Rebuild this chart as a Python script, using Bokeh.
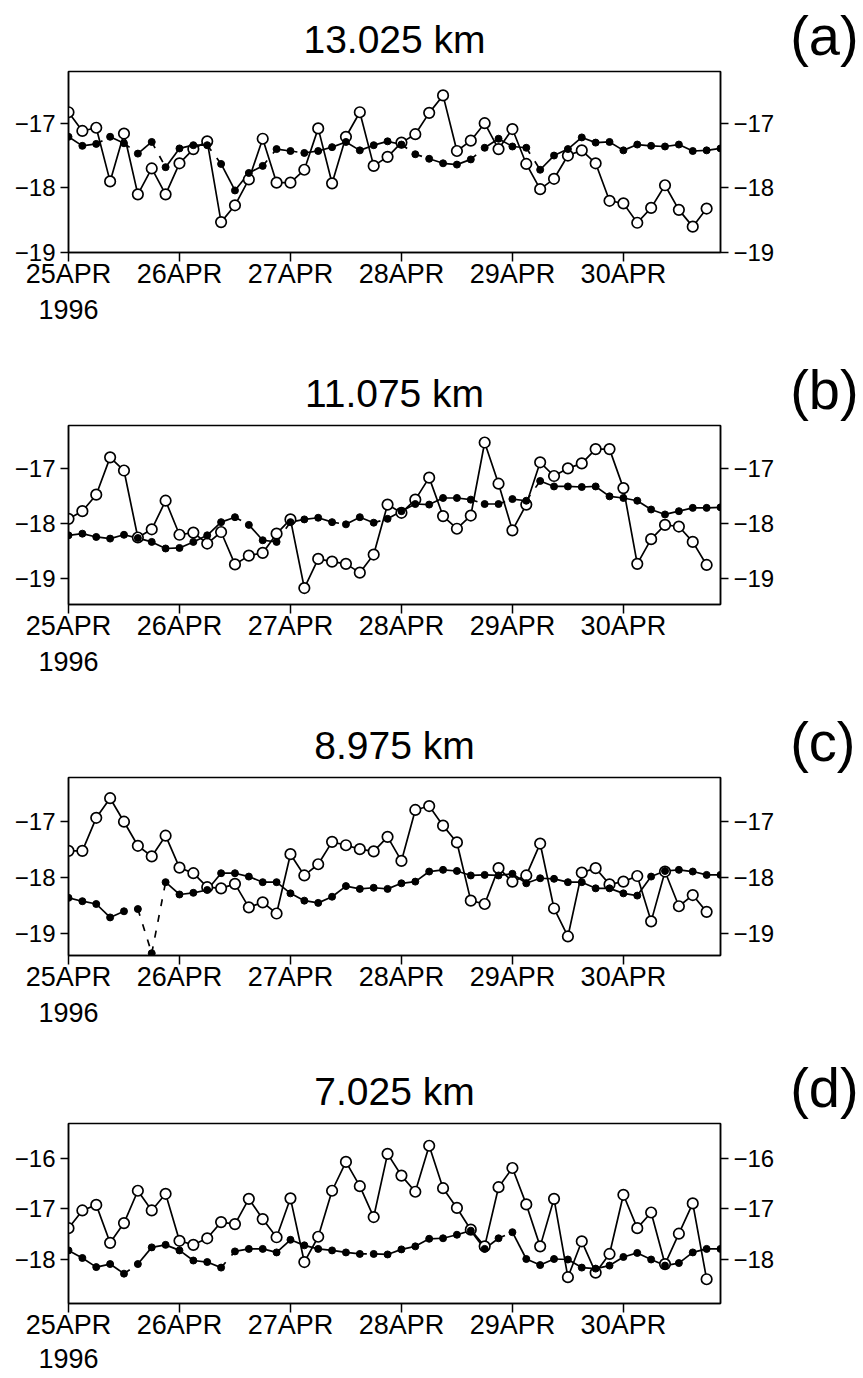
from bokeh.plotting import figure
from bokeh.layouts import column
from bokeh.models import Range1d, FixedTicker, LinearAxis, Title, ColumnDataSource
from bokeh.embed import file_html
from bokeh.resources import INLINE

# ---------------- data ----------------
STEP_HOURS = 3
DAY_TICKS = [0, 24, 48, 72, 96, 120]
DAY_LABELS = ["25APR", "26APR", "27APR", "28APR", "29APR", "30APR"]
YEAR_LABEL = "1996"
TITLES = ["13.025 km", "11.075 km", "8.975 km", "7.025 km"]
TAGS = ["(a)", "(b)", "(c)", "(d)"]

Y_TICKS_A = [-19, -18, -17]
Y_TICKS_B = [-19, -18, -17]
Y_TICKS_C = [-19, -18, -17]
Y_TICKS_D = [-18, -17, -16]

open_a = [-16.83, -17.12, -17.07, -17.90, -17.16, -18.10, -17.70, -18.10, -17.62, -17.40,
          -17.28, -18.53, -18.27, -17.87, -17.24, -17.92, -17.92, -17.72, -17.08, -17.93,
          -17.21, -16.83, -17.66, -17.52, -17.30, -17.17, -16.84, -16.57, -17.43, -17.27,
          -17.00, -17.40, -17.09, -17.63, -18.02, -17.86, -17.50, -17.42, -17.62, -18.20,
          -18.24, -18.54, -18.31, -17.96, -18.34, -18.60, -18.32]
filled_a = [-17.21, -17.35, -17.32, -17.21, -17.31, -17.47, -17.29, -17.68, -17.39, -17.34,
            -17.34, -17.63, -18.04, -17.77, -17.66, -17.40, -17.43, -17.46, -17.43, -17.37,
            -17.29, -17.42, -17.34, -17.28, -17.33, -17.48, -17.55, -17.62, -17.64, -17.56,
            -17.38, -17.24, -17.36, -17.38, -17.72, -17.50, -17.40, -17.22, -17.30, -17.29,
            -17.42, -17.33, -17.35, -17.36, -17.33, -17.43, -17.42, -17.39]
broken_a = [2, 4, 6, 10, 14, 16, 24, 25, 29, 33]

open_b = [-17.91, -17.77, -17.47, -16.79, -17.03, -18.25, -18.10, -17.58, -18.20, -18.16,
          -18.36, -18.15, -18.74, -18.58, -18.53, -18.18, -17.92, -19.17, -18.64, -18.69,
          -18.73, -18.89, -18.56, -17.65, -17.80, -17.56, -17.16, -17.86, -18.09, -17.85,
          -16.52, -17.27, -18.12, -17.65, -16.88, -17.13, -16.99, -16.90, -16.64, -16.64,
          -17.35, -18.73, -18.28, -18.02, -18.05, -18.33, -18.75]
filled_b = [-18.21, -18.18, -18.24, -18.27, -18.20, -18.26, -18.33, -18.45, -18.44, -18.33,
            -18.21, -17.97, -17.88, -18.02, -18.30, -18.33, -17.97, -17.92, -17.89, -17.97,
            -18.01, -17.88, -17.98, -17.91, -17.77, -17.64, -17.65, -17.53, -17.53, -17.56,
            -17.64, -17.64, -17.55, -17.58, -17.22, -17.32, -17.32, -17.33, -17.32, -17.50,
            -17.53, -17.58, -17.74, -17.83, -17.77, -17.71, -17.71, -17.70]
broken_b = [12, 15, 19, 22, 29, 31, 33]

open_c = [-17.52, -17.52, -16.93, -16.58, -17.00, -17.43, -17.62, -17.25, -17.82, -17.92,
          -18.17, -18.19, -18.11, -18.53, -18.44, -18.64, -17.58, -17.96, -17.76, -17.36,
          -17.42, -17.49, -17.53, -17.27, -17.70, -16.79, -16.72, -17.07, -17.37, -18.41,
          -18.47, -17.83, -18.07, -17.96, -17.39, -18.55, -19.05, -17.91, -17.83, -18.12,
          -18.07, -17.97, -18.78, -17.89, -18.51, -18.31, -18.61]
filled_c = [-18.36, -18.42, -18.47, -18.71, -18.60, -18.56, -19.35, -18.08, -18.30, -18.27,
            -18.22, -17.92, -17.92, -17.98, -18.08, -18.08, -18.28, -18.41, -18.45, -18.34,
            -18.15, -18.20, -18.18, -18.20, -18.10, -18.07, -17.89, -17.86, -17.88, -17.96,
            -17.95, -17.96, -17.93, -18.10, -18.01, -18.02, -18.08, -18.08, -18.19, -18.19,
            -18.28, -18.32, -17.98, -17.88, -17.86, -17.89, -17.95, -17.95]
broken_c = [5, 6]
missing_link_c = [4]

open_d = [-17.38, -17.03, -16.92, -17.67, -17.28, -16.64, -17.03, -16.70, -17.63, -17.71,
          -17.58, -17.26, -17.30, -16.80, -17.20, -17.56, -16.79, -18.05, -17.55, -16.64,
          -16.07, -16.55, -17.16, -15.91, -16.34, -16.66, -15.75, -16.59, -16.98, -17.41,
          -17.74, -16.57, -16.19, -16.91, -17.74, -16.80, -18.35, -17.64, -18.26, -17.89,
          -16.72, -17.38, -17.07, -18.09, -17.49, -16.89, -18.39]
filled_d = [-17.82, -17.97, -18.15, -18.09, -18.28, -18.09, -17.76, -17.71, -17.82, -18.02,
            -18.05, -18.16, -17.84, -17.79, -17.79, -17.86, -17.61, -17.72, -17.79, -17.82,
            -17.86, -17.89, -17.89, -17.90, -17.80, -17.74, -17.59, -17.58, -17.51, -17.43,
            -17.79, -17.58, -17.46, -17.99, -18.11, -17.99, -18.00, -18.16, -18.18, -18.12,
            -17.95, -17.87, -18.00, -18.12, -18.07, -17.86, -17.79, -17.79]
broken_d = [4, 11, 21, 31]

# ---------------- layout / style ----------------
FONT = "Liberation Sans"
WIDTH = 863
X_END = 141
FRAME_LEFT = 68
FRAME_W = 652

panels = [
    dict(open=open_a, filled=filled_a, broken=broken_a, missing=[], yr=(-19.0, -16.2),
         yt=Y_TICKS_A, h=358, top=71, frame=181, year_gap=8),
    dict(open=open_b, filled=filled_b, broken=broken_b, missing=[], yr=(-19.47, -16.21),
         yt=Y_TICKS_B, h=352, top=67, frame=179, year_gap=8),
    dict(open=open_c, filled=filled_c, broken=broken_c, missing=missing_link_c,
         yr=(-19.39, -16.21), yt=Y_TICKS_C, h=346, top=67, frame=178, year_gap=8),
    dict(open=open_d, filled=filled_d, broken=broken_d, missing=[], yr=(-18.87, -15.31),
         yt=Y_TICKS_D, h=322, top=67, frame=180, year_gap=6),
]


def style_axis(ax, font_size):
    ax.axis_line_width = 1.5
    ax.axis_line_color = "black"
    ax.major_tick_line_width = 1.5
    ax.major_tick_line_color = "black"
    ax.major_tick_in = 0
    ax.minor_tick_in = 0
    ax.minor_tick_out = 0
    ax.major_label_text_font = FONT
    ax.major_label_text_font_size = font_size
    ax.major_label_text_color = "black"
    ax.axis_label_text_font = FONT
    ax.axis_label_text_font_style = "normal"
    ax.axis_label_text_color = "black"


def main_fig(k, pnl):
    bottom = pnl["h"] - pnl["top"] - pnl["frame"]
    p = figure(width=WIDTH, height=pnl["h"], output_backend="svg", toolbar_location=None,
               x_range=Range1d(0, X_END), y_range=Range1d(*pnl["yr"]),
               min_border_left=FRAME_LEFT, min_border_right=WIDTH - FRAME_LEFT - FRAME_W,
               min_border_top=pnl["top"], min_border_bottom=bottom,
               background_fill_color="white", border_fill_color="white")
    p.xgrid.visible = False
    p.ygrid.visible = False
    p.outline_line_color = "black"
    p.outline_line_width = 1.5

    p.add_layout(Title(text=TITLES[k], align="center", vertical_align="bottom",
                       text_font=FONT, text_font_size="39px", text_font_style="normal",
                       text_color="black", standoff=22), "above")

    xa = p.xaxis[0]
    xa.ticker = FixedTicker(ticks=DAY_TICKS)
    xa.major_label_overrides = {t: l for t, l in zip(DAY_TICKS, DAY_LABELS)}
    style_axis(xa, "27px")
    xa.major_tick_out = 9
    xa.major_label_standoff = -3
    xa.axis_label = YEAR_LABEL
    xa.axis_label_align = "start"
    xa.axis_label_text_font_size = "27px"
    xa.axis_label_standoff = pnl["year_gap"]

    ylabels = {t: ("\u2212" + str(abs(t))) for t in pnl["yt"]}
    ya = p.yaxis[0]
    ya.ticker = FixedTicker(ticks=pnl["yt"])
    ya.major_label_overrides = ylabels
    style_axis(ya, "24px")
    ya.major_tick_out = 8
    ya.major_label_standoff = 5

    yr = LinearAxis(ticker=FixedTicker(ticks=pnl["yt"]), major_label_overrides=ylabels)
    style_axis(yr, "24px")
    yr.major_tick_out = 8
    yr.major_label_standoff = 5
    yr.axis_label = TAGS[k] + "\n "
    yr.axis_label_orientation = "horizontal"
    yr.axis_label_align = "end"
    yr.axis_label_text_font_size = "56px"
    yr.axis_label_text_line_height = 1.14
    yr.axis_label_standoff = 13
    p.add_layout(yr, "right")

    xo = [i * STEP_HOURS for i in range(len(pnl["open"]))]
    xf = [i * STEP_HOURS for i in range(len(pnl["filled"]))]
    p.line(xo, pnl["open"], line_color="black", line_width=1.7)

    solid = dict(x0=[], y0=[], x1=[], y1=[])
    dashed = dict(x0=[], y0=[], x1=[], y1=[])
    for i in range(len(xf) - 1):
        if i in pnl["missing"]:
            continue
        tgt = dashed if i in pnl["broken"] else solid
        tgt["x0"].append(xf[i]); tgt["y0"].append(pnl["filled"][i])
        tgt["x1"].append(xf[i + 1]); tgt["y1"].append(pnl["filled"][i + 1])
    p.segment("x0", "y0", "x1", "y1", source=ColumnDataSource(solid),
              line_color="black", line_width=1.7)
    p.segment("x0", "y0", "x1", "y1", source=ColumnDataSource(dashed),
              line_color="black", line_width=1.7, line_dash="7 9")

    p.scatter(xo, pnl["open"], marker="circle", size=10.5, fill_color="white",
              line_color="black", line_width=1.7)
    p.scatter(xf, pnl["filled"], marker="circle", size=7, fill_color="black",
              line_color="black", line_width=1)
    return p


figs = [main_fig(k, pnl) for k, pnl in enumerate(panels)]
layout = column(*figs, spacing=0)
open("out.html", "w").write(file_html(layout, INLINE))
